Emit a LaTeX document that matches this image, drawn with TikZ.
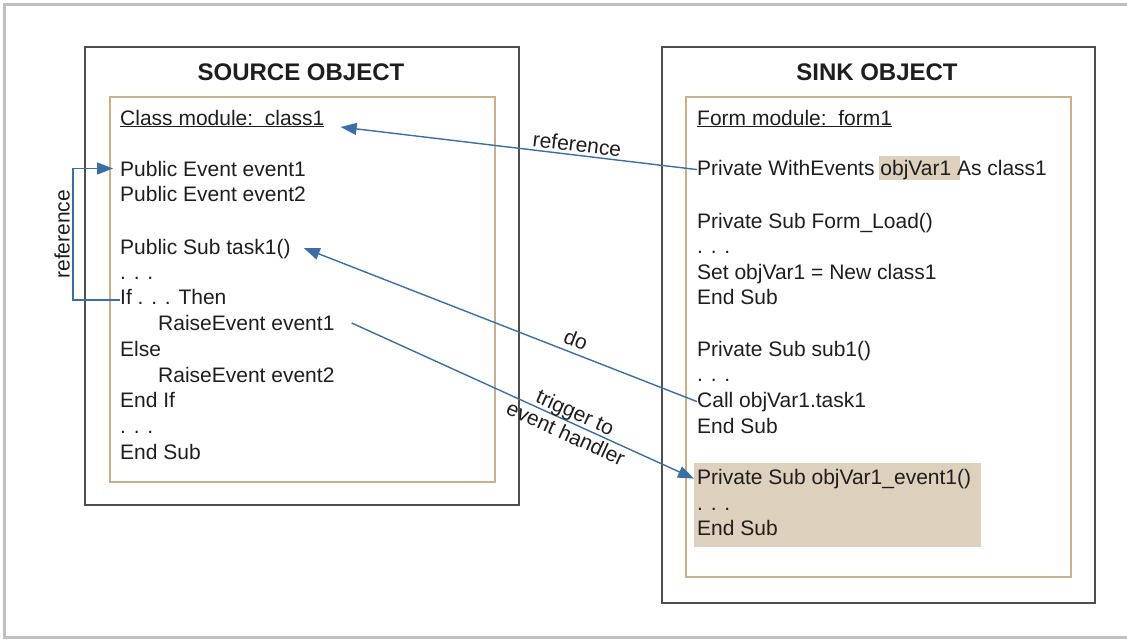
\documentclass[tikz,border=0pt]{standalone}
\usepackage{fontspec}
\setmainfont{Liberation Sans}
\usetikzlibrary{arrows.meta}
\definecolor{framegray}{HTML}{C0C0C0}
\definecolor{boxgray}{HTML}{4E4E4E}
\definecolor{tanline}{HTML}{C8B08C}
\definecolor{hlfill}{HTML}{DDD0BC}
\definecolor{arrowblue}{HTML}{3A6EA5}
\definecolor{txt}{HTML}{1E1E1E}
\begin{document}
\begin{tikzpicture}[x=1pt,y=-1pt,
 codeline/.style={anchor=base west, inner sep=0pt, text=txt, font=\fontsize{21}{25}\selectfont},
 heading/.style={anchor=base, inner sep=0pt, text=txt, font=\fontsize{24}{28}\selectfont\bfseries},
 objbox/.style={draw=boxgray, line width=2.2pt, anchor=north west, inner sep=0pt, outer sep=0pt},
 modbox/.style={draw=tanline, line width=1.6pt, anchor=north west, inner sep=0pt, outer sep=0pt},
 hlbox/.style={fill=hlfill, draw=none},
 arr/.style={draw=arrowblue, line width=1.4pt, -{Triangle[length=16pt,width=12pt]}},
 lbl/.style={inner sep=2.5pt, text=txt, font=\fontsize{21}{23}\selectfont},
]
\useasboundingbox (0,0) rectangle (1127,640);
\draw[framegray, line width=3pt] (1135,4) -- (4,4) -- (4,637) -- (1135,637);

% object boxes
\node[objbox, minimum width=434pt, minimum height=458pt] (srcobj) at (85,47) {};
\node[modbox, minimum width=385pt, minimum height=385pt] (srcmod) at (110,97) {};
\node[objbox, minimum width=433pt, minimum height=556pt] (snkobj) at (662,47) {};
\node[modbox, minimum width=385pt, minimum height=480pt] (snkmod) at (686,97) {};

\node[heading] (srctitle) at (301,80) {SOURCE OBJECT};
\node[heading] (snktitle) at (877,80) {SINK OBJECT};

% highlights
\fill[hlbox] (879,156) rectangle (960,180);
\fill[hlbox] (694,463) rectangle (981,547);

% source code
\node[codeline] (clsmod) at (120,125) {\underline{Class module:\ \ class1}};
\node[codeline] (ev1) at (120,176) {Public Event event1};
\node[codeline] (ev2) at (120,201) {Public Event event2};
\node[codeline] (task) at (120,254) {Public Sub task1()};
\node[codeline] (sd1) at (120,279) {. . .};
\node[codeline] (ifl) at (120,304) {If . . . Then};
\node[codeline] (re1) at (158,330) {RaiseEvent event1};
\node[codeline] (els) at (120,356) {Else};
\node[codeline] (re2) at (158,382) {RaiseEvent event2};
\node[codeline] (endif) at (120,407) {End If};
\node[codeline] (sd2) at (120,433) {. . .};
\node[codeline] (endsub) at (120,459) {End Sub};

% sink code
\node[codeline] (frmmod) at (697,125) {\underline{Form module:\ \ form1}};
\node[codeline] (pwe) at (697,175) {Private WithEvents objVar1 As class1};
\node[codeline] (load) at (697,228) {Private Sub Form\_Load()};
\node[codeline] (kd1) at (697,253) {. . .};
\node[codeline] (setl) at (697,279) {Set objVar1 = New class1};
\node[codeline] (es1) at (697,304) {End Sub};
\node[codeline] (sub1) at (697,356) {Private Sub sub1()};
\node[codeline] (kd2) at (697,381) {. . .};
\node[codeline] (call) at (697,407) {Call objVar1.task1};
\node[codeline] (es2) at (697,433) {End Sub};
\node[codeline] (evh) at (697,484) {Private Sub objVar1\_event1()};
\node[codeline] (kd3) at (697,510) {. . .};
\node[codeline] (es3) at (697,535) {End Sub};

% connectors
\draw[arr] (pwe.west) -- ([xshift=16pt,yshift=-2pt]clsmod.base east)
  node[lbl, pos=0.34, above, sloped] {reference};
\draw[arr] (call.west) -- ([xshift=13pt,yshift=6pt]task.base east)
  node[lbl, pos=0.32, above, sloped, inner sep=5pt] {do};
\draw[arr] ([xshift=17pt,yshift=7pt]re1.base east) -- ([xshift=-3pt]evh.west)
  node[lbl, pos=0.64, sloped, align=center] {trigger to\\event handler};
\draw[arr] ([yshift=4pt]ifl.base west) -- ++(-47,0)
  |- node[lbl, pos=0.25, sloped, above] {reference} ([xshift=-7pt]ev1.west);
\end{tikzpicture}
\end{document}
